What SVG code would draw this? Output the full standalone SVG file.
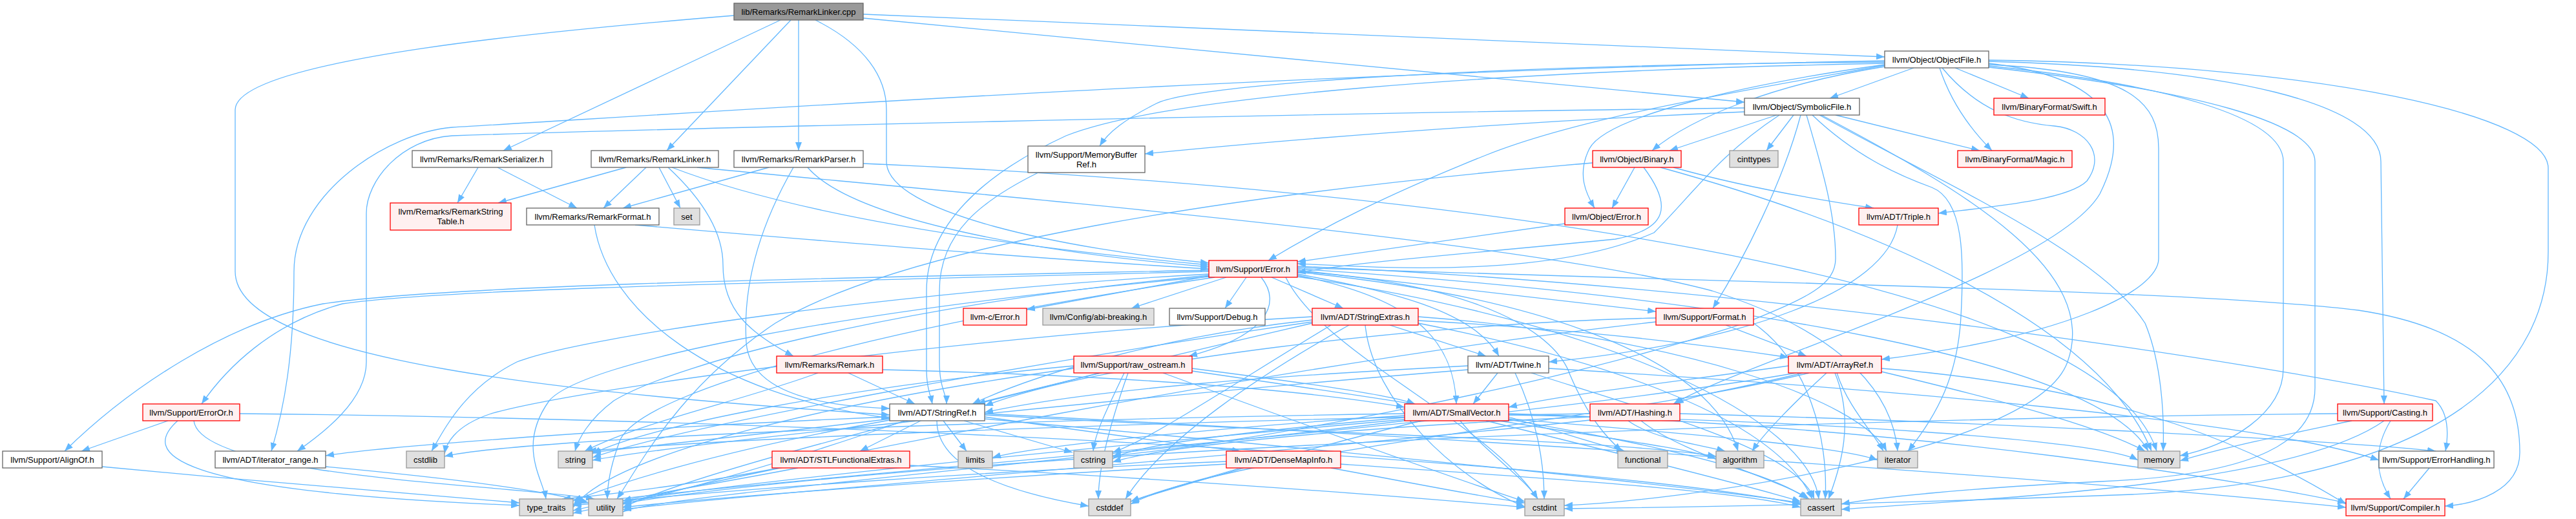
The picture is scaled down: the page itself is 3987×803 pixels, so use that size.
<svg xmlns="http://www.w3.org/2000/svg" width="3987" height="803" viewBox="0 0 3987 803">
<defs>
<style>
.e{fill:none;stroke:#63b8ff;stroke-width:1.3;marker-end:url(#ah)}
rect{stroke-width:1.3}
rect.root{fill:#999999;stroke:#666666}
rect.w{fill:#ffffff;stroke:#666666}
rect.r{fill:#fff0f0;stroke:#ff0000}
rect.g{fill:#e0e0e0;stroke:#999999}
text{font-family:"Liberation Sans",Arial,Helvetica,sans-serif;font-size:13px;text-anchor:middle;fill:#000000}
</style>
<marker id="ah" viewBox="0 0 13 10" refX="13" refY="5" markerWidth="13" markerHeight="10" markerUnits="userSpaceOnUse" orient="auto"><path d="M0,0 L13,5 L0,10 z" fill="#63b8ff"/></marker>
</defs>
<rect x="0" y="0" width="3987" height="803" fill="#ffffff"/>
<g id="edges">
<path class="e" d="M1136,24 C880,45 364,90 364,170 L364,420 C364,560 900,610 1377,642"/>
<path class="e" d="M1208,31 L779,233"/>
<path class="e" d="M1224,31 L1032,233"/>
<path class="e" d="M1236,31 L1236,233"/>
<path class="e" d="M1262,31 C1340,70 1372,120 1372,170 L1372,250 C1372,330 1650,385 1871,407"/>
<path class="e" d="M1336,22 C1900,45 2500,70 2917,88"/>
<path class="e" d="M1336,28 C1900,85 2400,130 2700,158"/>
<path class="e" d="M740,259 L708,314"/>
<path class="e" d="M770,259 L893,322"/>
<path class="e" d="M969,259 L771,314"/>
<path class="e" d="M1000,259 L934,322"/>
<path class="e" d="M1020,259 L1053,322"/>
<path class="e" d="M1034,259 C1100,320 1119,370 1119,410 C1119,480 1160,515 1228,551"/>
<path class="e" d="M1040,259 C1250,340 1600,385 1871,410"/>
<path class="e" d="M1079,259 C1500,300 2350,370 2650,450 C2870,520 2930,620 2937,698"/>
<path class="e" d="M1190,259 L964,322"/>
<path class="e" d="M1228,259 C1170,360 1150,450 1155,530 C1160,600 1250,628 1377,632"/>
<path class="e" d="M1250,259 C1320,340 1600,390 1871,413"/>
<path class="e" d="M1336,253 C2200,290 3250,420 3338,698"/>
<path class="e" d="M920,348 C940,480 1100,610 1377,647"/>
<path class="e" d="M983,348 C1300,375 1600,400 1871,416"/>
<path class="e" d="M1607,267 C1520,310 1454,360 1454,450 L1454,560 C1454,600 1465,610 1465,625"/>
<path class="e" d="M2962,105 L2832,152"/>
<path class="e" d="M3002,105 C3020,160 3050,200 3083,233"/>
<path class="e" d="M3006,105 C3060,170 3120,190 3180,195 C3230,200 3260,240 3230,280 C3200,310 3080,320 3000,330"/>
<path class="e" d="M3026,105 L3140,152"/>
<path class="e" d="M3078,98 C3270,120 3300,200 3250,300 C3180,420 2700,560 2590,625"/>
<path class="e" d="M3078,100 C3300,110 3341,160 3341,230 L3341,400 C3341,450 3200,520 2912,556"/>
<path class="e" d="M3078,102 C3350,130 3534,180 3534,250 L3534,570 C3534,640 3450,690 3374,705"/>
<path class="e" d="M3078,104 C3400,140 3583,190 3583,250 L3583,600 C3583,680 3500,735 3250,745 C3050,755 2900,770 2850,780"/>
<path class="e" d="M3078,95 C3450,105 3685,160 3685,250 L3690,625"/>
<path class="e" d="M3078,93 C3600,100 3944,180 3944,260 L3944,390 C3944,560 3800,740 3300,765 C2900,780 2600,785 2421,787"/>
<path class="e" d="M2917,101 C2700,140 2450,180 2300,240 C2150,300 2050,350 1963,403"/>
<path class="e" d="M2917,98 C2300,110 1800,150 1650,210 C1520,270 1434,350 1434,450 L1434,570 C1434,600 1440,610 1443,625"/>
<path class="e" d="M2917,96 C2300,100 1850,130 1790,160 C1740,185 1715,205 1702,226"/>
<path class="e" d="M2917,94 C2000,110 1000,180 700,197 C600,205 455,300 455,420 C455,550 440,630 420,698"/>
<path class="e" d="M2917,103 C2750,130 2620,180 2557,233"/>
<path class="e" d="M2917,100 C2700,130 2486,180 2460,230 C2440,270 2455,300 2468,322"/>
<path class="e" d="M2750,178 L2584,233"/>
<path class="e" d="M2787,178 C2760,280 2700,400 2651,477"/>
<path class="e" d="M2776,178 L2734,233"/>
<path class="e" d="M2796,178 C2820,260 2841,330 2841,400 C2841,440 2800,460 2700,500 C2400,600 1900,690 1722,705"/>
<path class="e" d="M2805,178 C2870,240 2935,270 2990,290 C3040,310 3040,400 3035,490 C3030,580 3000,640 2953,698"/>
<path class="e" d="M2816,178 C3000,280 3250,390 3320,500 C3345,560 3350,640 3348,698"/>
<path class="e" d="M2819,178 C3050,300 3250,420 3200,560 C3150,700 2600,775 2421,782"/>
<path class="e" d="M2841,178 L3064,233"/>
<path class="e" d="M2754,178 C2660,240 2620,300 2560,360 C2400,430 2150,415 2008,408"/>
<path class="e" d="M2700,173 C2300,190 1950,220 1772,238"/>
<path class="e" d="M2700,167 C2000,175 1000,200 700,210 C620,215 567,280 567,330 L567,560 C567,620 500,670 460,698"/>
<path class="e" d="M2530,259 L2495,322"/>
<path class="e" d="M2590,259 C2700,290 2820,310 2900,322"/>
<path class="e" d="M2544,259 C2590,320 2580,355 2500,370 C2300,390 2100,405 2008,422"/>
<path class="e" d="M2570,259 C2900,350 3250,500 3330,698"/>
<path class="e" d="M2465,252 C1900,300 1400,380 1200,500 C1050,600 990,720 955,772"/>
<path class="e" d="M2422,346 L2008,405"/>
<path class="e" d="M2937,348 C2920,450 2700,530 2397,560"/>
<path class="e" d="M1871,427 L1589,479"/>
<path class="e" d="M1898,429 L1751,477"/>
<path class="e" d="M1929,429 L1896,477"/>
<path class="e" d="M1968,429 L2079,477"/>
<path class="e" d="M1952,429 C1985,470 1960,520 1840,551"/>
<path class="e" d="M2008,424 C2150,450 2280,480 2320,551"/>
<path class="e" d="M2008,426 C2180,460 2250,520 2254,625"/>
<path class="e" d="M2008,418 L2563,482"/>
<path class="e" d="M2008,420 C2300,440 2410,520 2430,580 C2460,650 2490,680 2510,698"/>
<path class="e" d="M1871,418 C1300,430 700,440 500,470 C350,500 200,600 100,698"/>
<path class="e" d="M1871,420 C1300,435 700,445 530,470 C420,500 350,570 312,625"/>
<path class="e" d="M1871,424 C1400,450 900,520 800,560 C720,600 690,660 668,698"/>
<path class="e" d="M1871,426 C1400,470 1050,560 950,620 C910,650 895,680 890,698"/>
<path class="e" d="M1871,428 C1300,480 900,560 850,620 C800,690 840,740 845,772"/>
<path class="e" d="M1880,429 C1400,500 1000,600 960,680 C945,720 940,750 940,772"/>
<path class="e" d="M2008,421 C2400,460 2650,560 2690,698"/>
<path class="e" d="M2008,428 C2500,500 2800,650 2815,772"/>
<path class="e" d="M1990,429 C2050,550 2300,650 2380,772"/>
<path class="e" d="M2008,416 C2700,460 3250,560 3325,698"/>
<path class="e" d="M2008,414 C2800,440 3400,450 3650,480 C3850,510 3900,600 3900,700 C3900,760 3830,780 3784,783"/>
<path class="e" d="M2008,412 C2700,440 3500,560 3770,620 C3790,640 3790,670 3785,698"/>
<path class="e" d="M2195,496 C2450,510 2650,535 2768,553"/>
<path class="e" d="M2031,495 C1800,520 1600,580 1505,625"/>
<path class="e" d="M2151,503 L2300,551"/>
<path class="e" d="M2195,500 C2500,560 2750,650 2805,772"/>
<path class="e" d="M2088,503 C1950,580 1800,680 1742,772"/>
<path class="e" d="M2113,503 C2125,620 2250,740 2360,784"/>
<path class="e" d="M2031,490 C1500,520 900,600 760,640 C700,660 690,690 688,702"/>
<path class="e" d="M2060,503 C1900,600 1780,680 1722,700"/>
<path class="e" d="M2195,490 C2600,520 2880,620 2920,698"/>
<path class="e" d="M2031,498 C1600,560 1050,660 917,708"/>
<path class="e" d="M2031,500 C1600,600 1100,720 964,785"/>
<path class="e" d="M2671,503 L2796,551"/>
<path class="e" d="M2563,492 C2200,500 1700,560 1524,628"/>
<path class="e" d="M2714,500 C2800,560 2830,680 2825,772"/>
<path class="e" d="M2563,498 C2000,560 1200,720 964,778"/>
<path class="e" d="M1313,577 L1416,625"/>
<path class="e" d="M1366,572 C1700,580 2000,600 2174,630"/>
<path class="e" d="M1266,577 C1150,620 1000,650 905,698"/>
<path class="e" d="M1845,570 C2000,590 2150,610 2190,625"/>
<path class="e" d="M1702,577 L1512,625"/>
<path class="e" d="M1845,574 C2300,640 2700,700 2797,772"/>
<path class="e" d="M1746,577 C1720,650 1700,720 1700,772"/>
<path class="e" d="M1800,577 C2000,650 2250,740 2360,776"/>
<path class="e" d="M1740,577 C1710,640 1695,670 1692,698"/>
<path class="e" d="M1662,566 C1300,600 1000,660 917,702"/>
<path class="e" d="M1662,570 C1300,620 950,700 887,785"/>
<path class="e" d="M2318,577 L2280,625"/>
<path class="e" d="M2272,566 C2000,580 1700,600 1524,638"/>
<path class="e" d="M2397,570 C2900,600 3500,650 3682,712"/>
<path class="e" d="M2370,577 C2600,650 2780,700 2808,772"/>
<path class="e" d="M2345,577 C2380,650 2390,720 2390,772"/>
<path class="e" d="M2272,572 C1800,610 1100,680 917,712"/>
<path class="e" d="M2790,577 C2700,600 2620,610 2593,625"/>
<path class="e" d="M2768,566 C2600,590 2420,610 2335,630"/>
<path class="e" d="M2912,570 C3300,600 3500,700 3631,780"/>
<path class="e" d="M2827,577 C2780,620 2730,670 2712,698"/>
<path class="e" d="M2840,577 C2870,650 2850,720 2830,772"/>
<path class="e" d="M2800,577 C2500,650 1900,700 1750,780"/>
<path class="e" d="M2843,577 C2860,630 2900,670 2915,698"/>
<path class="e" d="M2912,575 C3100,620 3250,660 3320,698"/>
<path class="e" d="M2780,577 C2300,660 1200,740 887,780"/>
<path class="e" d="M260,651 L126,698"/>
<path class="e" d="M371,640 C1400,650 2500,720 2787,780"/>
<path class="e" d="M275,651 C220,700 250,760 804,782"/>
<path class="e" d="M300,651 C310,740 800,750 920,772"/>
<path class="e" d="M158,722 C400,745 700,770 804,778"/>
<path class="e" d="M504,722 C700,740 850,760 911,778"/>
<path class="e" d="M1425,651 L1331,698"/>
<path class="e" d="M1460,651 L1496,698"/>
<path class="e" d="M1492,651 L1660,700"/>
<path class="e" d="M1524,645 C1700,670 1850,690 1920,698"/>
<path class="e" d="M1450,651 C1450,720 1550,760 1685,783"/>
<path class="e" d="M1377,645 C1000,660 600,690 504,705"/>
<path class="e" d="M1524,640 C2300,680 3200,740 3631,785"/>
<path class="e" d="M1524,642 C2000,670 2500,680 2656,706"/>
<path class="e" d="M1524,648 C2100,700 2600,750 2787,778"/>
<path class="e" d="M1377,648 C1200,670 1000,690 917,700"/>
<path class="e" d="M1377,650 C1100,700 950,750 887,775"/>
<path class="e" d="M1400,651 C1200,720 1050,760 964,780"/>
<path class="e" d="M2335,640 C3000,660 3500,750 3631,778"/>
<path class="e" d="M2320,651 C2500,680 2620,695 2656,710"/>
<path class="e" d="M2300,651 C2500,700 2700,750 2787,776"/>
<path class="e" d="M2200,651 C2000,700 1800,760 1750,776"/>
<path class="e" d="M2260,651 C2300,700 2360,740 2380,772"/>
<path class="e" d="M2174,640 C1500,650 800,680 688,706"/>
<path class="e" d="M2174,646 C1900,670 1750,690 1722,710"/>
<path class="e" d="M2335,645 C2420,670 2480,690 2515,698"/>
<path class="e" d="M2335,648 C2600,670 2850,690 2906,712"/>
<path class="e" d="M2174,643 C1900,660 1600,690 1536,708"/>
<path class="e" d="M2335,642 C2800,650 3250,680 3309,712"/>
<path class="e" d="M2174,649 C1600,700 1000,760 887,790"/>
<path class="e" d="M2174,651 C1600,720 1000,770 964,792"/>
<path class="e" d="M2600,640 C3000,650 3600,680 3770,698"/>
<path class="e" d="M2520,651 C2560,680 2640,690 2670,698"/>
<path class="e" d="M2540,651 C2600,700 2750,740 2800,772"/>
<path class="e" d="M2461,645 C2100,660 1800,690 1722,715"/>
<path class="e" d="M2461,640 C1800,650 1100,680 910,698"/>
<path class="e" d="M2461,650 C2000,700 1200,760 964,788"/>
<path class="e" d="M3700,651 C3670,700 3680,740 3700,772"/>
<path class="e" d="M3640,651 C3550,670 3450,690 3374,713"/>
<path class="e" d="M3690,651 C3550,750 3100,770 2850,788"/>
<path class="e" d="M3618,640 C2500,650 1200,720 887,794"/>
<path class="e" d="M3760,724 L3720,772"/>
<path class="e" d="M1408,720 C1800,740 2200,770 2360,785"/>
<path class="e" d="M1205,724 C1100,745 950,765 870,772"/>
<path class="e" d="M1235,724 C1100,750 1000,765 964,775"/>
<path class="e" d="M2075,718 C2400,740 2700,760 2787,785"/>
<path class="e" d="M1920,724 C1850,745 1790,760 1750,776"/>
<path class="e" d="M2060,724 C2200,750 2300,770 2360,778"/>
<path class="e" d="M1898,714 C1500,730 1100,760 887,782"/>
<path class="e" d="M1898,718 C1500,740 1100,770 964,785"/>
</g>
<g id="n_root"><rect class="root" x="1136" y="5" width="200" height="26"/><text x="1236" y="22.5">lib/Remarks/RemarkLinker.cpp</text></g>
<g id="n_RemarkSerializer"><rect class="w" x="638" y="233" width="216" height="26"/><text x="746" y="250.5">llvm/Remarks/RemarkSerializer.h</text></g>
<g id="n_RemarkLinker"><rect class="w" x="915" y="233" width="197" height="26"/><text x="1013.5" y="250.5">llvm/Remarks/RemarkLinker.h</text></g>
<g id="n_RemarkParser"><rect class="w" x="1136" y="233" width="200" height="26"/><text x="1236" y="250.5">llvm/Remarks/RemarkParser.h</text></g>
<g id="n_RemarkStringTable"><rect class="r" x="604" y="314" width="187" height="42"/><text x="697.5" y="332">llvm/Remarks/RemarkString</text><text x="697.5" y="347">Table.h</text></g>
<g id="n_RemarkFormat"><rect class="w" x="815" y="322" width="205" height="26"/><text x="917.5" y="339.5">llvm/Remarks/RemarkFormat.h</text></g>
<g id="n_set"><rect class="g" x="1043" y="322" width="40" height="26"/><text x="1063" y="339.5">set</text></g>
<g id="n_MemoryBufferRef"><rect class="w" x="1591" y="226" width="181" height="41"/><text x="1681.5" y="244">llvm/Support/MemoryBuffer</text><text x="1681.5" y="259">Ref.h</text></g>
<g id="n_ObjectFile"><rect class="w" x="2917" y="79" width="161" height="26"/><text x="2997.5" y="96.5">llvm/Object/ObjectFile.h</text></g>
<g id="n_SymbolicFile"><rect class="w" x="2700" y="152" width="178" height="26"/><text x="2789" y="169.5">llvm/Object/SymbolicFile.h</text></g>
<g id="n_Swift"><rect class="r" x="3086" y="152" width="172" height="26"/><text x="3172" y="169.5">llvm/BinaryFormat/Swift.h</text></g>
<g id="n_cinttypes"><rect class="g" x="2677" y="233" width="75" height="26"/><text x="2714.5" y="250.5">cinttypes</text></g>
<g id="n_Magic"><rect class="r" x="3030" y="233" width="177" height="26"/><text x="3118.5" y="250.5">llvm/BinaryFormat/Magic.h</text></g>
<g id="n_Binary"><rect class="r" x="2465" y="233" width="137" height="26"/><text x="2533.5" y="250.5">llvm/Object/Binary.h</text></g>
<g id="n_ObjectError"><rect class="r" x="2422" y="322" width="129" height="26"/><text x="2486.5" y="339.5">llvm/Object/Error.h</text></g>
<g id="n_Triple"><rect class="r" x="2877" y="322" width="123" height="26"/><text x="2938.5" y="339.5">llvm/ADT/Triple.h</text></g>
<g id="n_SupportError"><rect class="r" x="1871" y="403" width="137" height="26"/><text x="1939.5" y="420.5">llvm/Support/Error.h</text></g>
<g id="n_cError"><rect class="r" x="1491" y="477" width="98" height="26"/><text x="1540" y="494.5">llvm-c/Error.h</text></g>
<g id="n_abi"><rect class="g" x="1614" y="477" width="172" height="26"/><text x="1700" y="494.5">llvm/Config/abi-breaking.h</text></g>
<g id="n_Debug"><rect class="w" x="1810" y="477" width="148" height="26"/><text x="1884" y="494.5">llvm/Support/Debug.h</text></g>
<g id="n_StringExtras"><rect class="r" x="2031" y="477" width="164" height="26"/><text x="2113" y="494.5">llvm/ADT/StringExtras.h</text></g>
<g id="n_Format"><rect class="r" x="2563" y="477" width="151" height="26"/><text x="2638.5" y="494.5">llvm/Support/Format.h</text></g>
<g id="n_Remark"><rect class="r" x="1202" y="551" width="164" height="26"/><text x="1284" y="568.5">llvm/Remarks/Remark.h</text></g>
<g id="n_raw_ostream"><rect class="r" x="1662" y="551" width="183" height="26"/><text x="1753.5" y="568.5">llvm/Support/raw_ostream.h</text></g>
<g id="n_Twine"><rect class="w" x="2272" y="551" width="125" height="26"/><text x="2334.5" y="568.5">llvm/ADT/Twine.h</text></g>
<g id="n_ArrayRef"><rect class="r" x="2768" y="551" width="144" height="26"/><text x="2840" y="568.5">llvm/ADT/ArrayRef.h</text></g>
<g id="n_ErrorOr"><rect class="r" x="221" y="625" width="150" height="26"/><text x="296" y="642.5">llvm/Support/ErrorOr.h</text></g>
<g id="n_StringRef"><rect class="w" x="1377" y="625" width="147" height="26"/><text x="1450.5" y="642.5">llvm/ADT/StringRef.h</text></g>
<g id="n_SmallVector"><rect class="r" x="2174" y="625" width="161" height="26"/><text x="2254.5" y="642.5">llvm/ADT/SmallVector.h</text></g>
<g id="n_Hashing"><rect class="r" x="2461" y="625" width="139" height="26"/><text x="2530.5" y="642.5">llvm/ADT/Hashing.h</text></g>
<g id="n_Casting"><rect class="r" x="3618" y="625" width="147" height="26"/><text x="3691.5" y="642.5">llvm/Support/Casting.h</text></g>
<g id="n_AlignOf"><rect class="w" x="4" y="698" width="154" height="26"/><text x="81" y="715.5">llvm/Support/AlignOf.h</text></g>
<g id="n_iterator_range"><rect class="w" x="333" y="698" width="171" height="26"/><text x="418.5" y="715.5">llvm/ADT/iterator_range.h</text></g>
<g id="n_cstdlib"><rect class="g" x="629" y="698" width="59" height="26"/><text x="658.5" y="715.5">cstdlib</text></g>
<g id="n_string"><rect class="g" x="864" y="698" width="53" height="26"/><text x="890.5" y="715.5">string</text></g>
<g id="n_STLFunctionalExtras"><rect class="r" x="1195" y="698" width="213" height="26"/><text x="1301.5" y="715.5">llvm/ADT/STLFunctionalExtras.h</text></g>
<g id="n_limits"><rect class="g" x="1483" y="698" width="53" height="26"/><text x="1509.5" y="715.5">limits</text></g>
<g id="n_cstring"><rect class="g" x="1662" y="698" width="60" height="26"/><text x="1692" y="715.5">cstring</text></g>
<g id="n_DenseMapInfo"><rect class="r" x="1898" y="698" width="177" height="26"/><text x="1986.5" y="715.5">llvm/ADT/DenseMapInfo.h</text></g>
<g id="n_functional"><rect class="g" x="2504" y="698" width="77" height="26"/><text x="2542.5" y="715.5">functional</text></g>
<g id="n_algorithm"><rect class="g" x="2656" y="698" width="74" height="26"/><text x="2693" y="715.5">algorithm</text></g>
<g id="n_iterator"><rect class="g" x="2906" y="698" width="62" height="26"/><text x="2937" y="715.5">iterator</text></g>
<g id="n_memory"><rect class="g" x="3309" y="698" width="65" height="26"/><text x="3341.5" y="715.5">memory</text></g>
<g id="n_ErrorHandling"><rect class="w" x="3682" y="698" width="178" height="26"/><text x="3771" y="715.5">llvm/Support/ErrorHandling.h</text></g>
<g id="n_type_traits"><rect class="g" x="804" y="772" width="83" height="26"/><text x="845.5" y="789.5">type_traits</text></g>
<g id="n_utility"><rect class="g" x="911" y="772" width="53" height="26"/><text x="937.5" y="789.5">utility</text></g>
<g id="n_cstddef"><rect class="g" x="1685" y="772" width="65" height="26"/><text x="1717.5" y="789.5">cstddef</text></g>
<g id="n_cstdint"><rect class="g" x="2360" y="772" width="61" height="26"/><text x="2390.5" y="789.5">cstdint</text></g>
<g id="n_cassert"><rect class="g" x="2787" y="772" width="63" height="26"/><text x="2818.5" y="789.5">cassert</text></g>
<g id="n_Compiler"><rect class="r" x="3631" y="772" width="153" height="26"/><text x="3707.5" y="789.5">llvm/Support/Compiler.h</text></g>
</svg>
